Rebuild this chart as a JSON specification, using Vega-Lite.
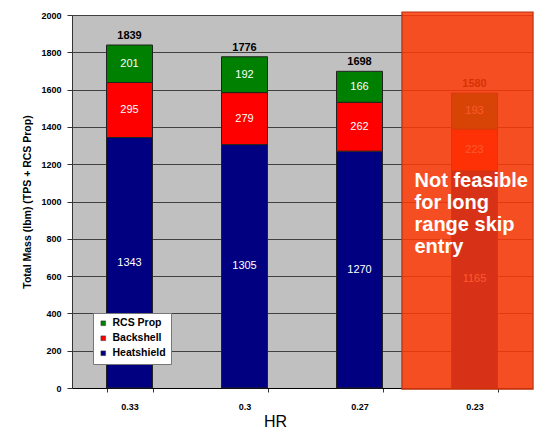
{
  "$schema": "https://vega.github.io/schema/vega-lite/v6.json",
  "width": 460,
  "height": 373,
  "autosize": "none",
  "padding": {"left": 72, "top": 15, "right": 3, "bottom": 44},
  "background": "white",
  "config": {"view": {"fill": "#C0C0C0", "stroke": null}, "font": "Liberation Sans"},
  "datasets": {
    "parts": [
      {"HR": "0.33", "component": "Heatshield", "mass": 1343},
      {"HR": "0.33", "component": "Backshell", "mass": 295},
      {"HR": "0.33", "component": "RCS Prop", "mass": 201},
      {"HR": "0.3", "component": "Heatshield", "mass": 1305},
      {"HR": "0.3", "component": "Backshell", "mass": 279},
      {"HR": "0.3", "component": "RCS Prop", "mass": 192},
      {"HR": "0.27", "component": "Heatshield", "mass": 1270},
      {"HR": "0.27", "component": "Backshell", "mass": 262},
      {"HR": "0.27", "component": "RCS Prop", "mass": 166},
      {"HR": "0.23", "component": "Heatshield", "mass": 1165},
      {"HR": "0.23", "component": "Backshell", "mass": 223},
      {"HR": "0.23", "component": "RCS Prop", "mass": 193}
    ],
    "totals": [
      {"HR": "0.33", "total": 1839},
      {"HR": "0.3", "total": 1776},
      {"HR": "0.27", "total": 1698},
      {"HR": "0.23", "total": 1580}
    ]
  },
  "data": {"name": "parts"},
  "transform": [
    {"calculate": "indexof(['Heatshield','Backshell','RCS Prop'], datum.component)", "as": "ord"},
    {"stack": "mass", "groupby": ["HR"], "sort": [{"field": "ord", "order": "ascending"}], "as": ["y0", "y1"]},
    {"calculate": "(datum.y0 + datum.y1) / 2", "as": "ymid"}
  ],
  "resolve": {"axis": {"y": "independent"}},
  "encoding": {
    "x": {
      "field": "HR", "type": "nominal", "sort": ["0.33", "0.3", "0.27", "0.23"],
      "scale": {"paddingInner": 0.6, "paddingOuter": 0.3},
      "axis": {
        "labelAngle": 0, "labelFontSize": 9, "labelFontWeight": "bold", "labelColor": "#000",
        "labelPadding": 10, "tickBand": "extent", "tickSize": 4, "tickColor": "#333",
        "domainColor": "#000", "title": "HR", "titleFontSize": 16, "titleFontWeight": "normal",
        "titleColor": "#000", "titleX": 203, "titleY": 25, "titleBaseline": "top", "titleAlign": "center"
      }
    }
  },
  "layer": [
    {
      "mark": {"type": "bar", "stroke": "#222", "strokeWidth": 1},
      "encoding": {
        "y": {
          "field": "y1", "type": "quantitative", "scale": {"domain": [0, 2000], "nice": false},
          "axis": {
            "title": "Total Mass (lbm) (TPS + RCS Prop)", "titleFontSize": 10.5, "titleFontWeight": "bold",
            "titleColor": "#000", "titlePadding": 8, "format": "d", "labelOverlap": false,
            "values": [0, 200, 400, 600, 800, 1000, 1200, 1400, 1600, 1800, 2000],
            "labelFontSize": 9, "labelFontWeight": "bold", "labelColor": "#000", "labelPadding": 6,
            "grid": true, "gridColor": "#404040", "gridWidth": 1, "gridOpacity": 1,
            "domainColor": "#333", "tickColor": "#333", "tickSize": 5
          }
        },
        "y2": {"field": "y0"},
        "color": {
          "field": "component", "type": "nominal",
          "scale": {"domain": ["RCS Prop", "Backshell", "Heatshield"], "range": ["#008000", "#FF0000", "#000080"]},
          "legend": {
            "orient": "none", "legendX": 21, "legendY": 298, "title": null,
            "fillColor": "white", "strokeColor": "#777", "padding": 5,
            "labelFontSize": 10.5, "labelFontWeight": "bold", "labelColor": "#000",
            "symbolType": "square", "symbolSize": 22, "symbolStrokeColor": "#333", "symbolStrokeWidth": 0.5,
            "rowPadding": 4, "labelOffset": 4
          }
        }
      }
    },
    {
      "mark": {"type": "text", "color": "white", "fontSize": 11, "baseline": "middle"},
      "encoding": {
        "y": {"field": "ymid", "type": "quantitative", "axis": null},
        "text": {"field": "mass", "type": "quantitative"}
      }
    },
    {
      "data": {"name": "totals"},
      "transform": [],
      "mark": {"type": "text", "baseline": "bottom", "dy": -4, "fontWeight": "bold", "fontSize": 11, "color": "#000"},
      "encoding": {
        "y": {"field": "total", "type": "quantitative", "axis": null},
        "text": {"field": "total", "type": "quantitative"}
      }
    },
    {
      "data": {"name": "totals"},
      "transform": [{"filter": "datum.HR === '0.23'"}],
      "mark": {"type": "bar", "width": {"band": 2.85}, "xOffset": -7, "fill": "#FD3A06", "fillOpacity": 0.85, "stroke": "#B8300C", "strokeWidth": 1.2, "clip": false},
      "encoding": {
        "y": {"datum": 2016, "axis": null},
        "y2": {"datum": -6}
      }
    },
    {
      "data": {"name": "totals"},
      "transform": [{"filter": "datum.HR === '0.23'"}],
      "mark": {"type": "text", "align": "left", "baseline": "top", "dx": -60, "fontSize": 20, "fontWeight": "bold", "color": "white", "lineHeight": 22, "text": ["Not feasible", "for long", "range skip", "entry"]},
      "encoding": {
        "y": {"datum": 1165, "axis": null}
      }
    }
  ]
}
